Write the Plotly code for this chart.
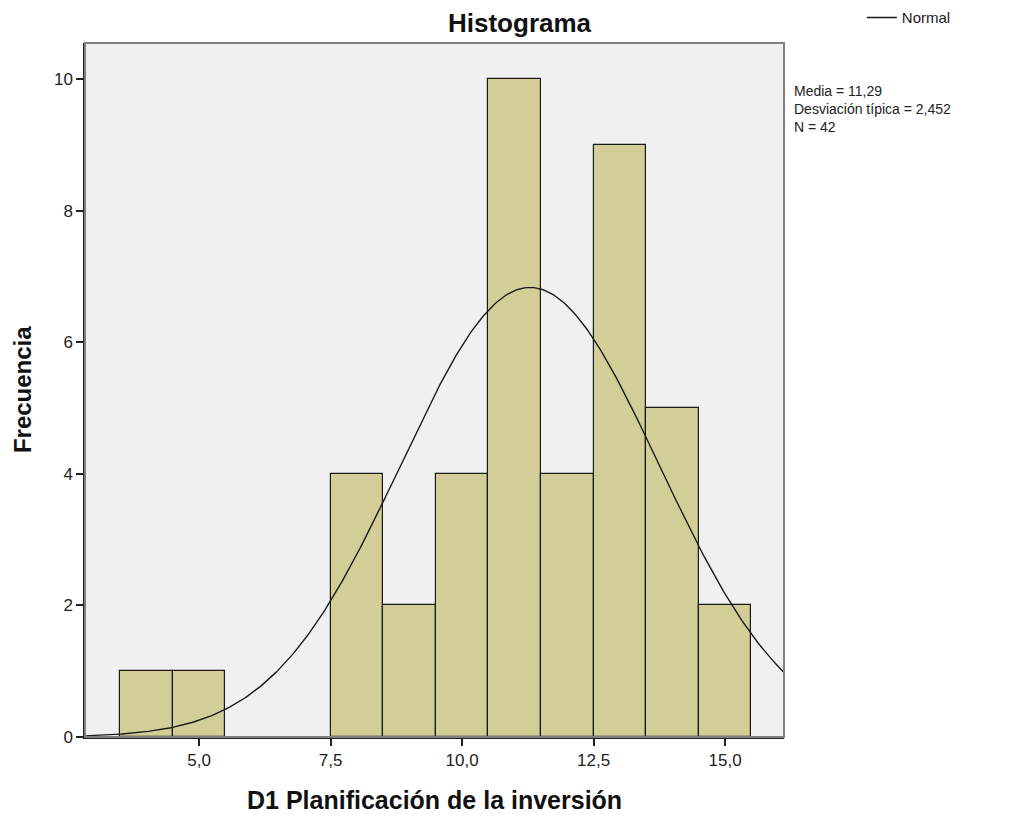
import numpy as np
import plotly.graph_objects as go

# Histograma: centros de clase (ancho 1) y frecuencias
centros = [4, 5, 8, 9, 10, 11, 12, 13, 14, 15]
frecuencias = [1, 1, 4, 2, 4, 10, 4, 9, 5, 2]
ancho_barra = 1.0

# estadisticos de la curva normal
media = 11.29
desv = 2.452
n = 42

ticks_x = [5.0, 7.5, 10.0, 12.5, 15.0]
ticks_y = [0, 2, 4, 6, 8, 10]
rango_x = [2.83, 16.12]
rango_y = [0, 10.55]

# curva normal ajustada (escalada a frecuencias)
x_curva = np.linspace(rango_x[0], rango_x[1], 400)
y_curva = n * ancho_barra * np.exp(-0.5 * ((x_curva - media) / desv) ** 2) / (desv * np.sqrt(2 * np.pi))

FUENTE = "Liberation Sans, Arial, sans-serif"

texto_stats = "<br>".join([
    "Media = " + f"{media:.2f}".replace(".", ","),
    "Desviación típica = " + f"{desv:.3f}".replace(".", ","),
    f"N = {n}",
])

fig = go.Figure()

fig.add_trace(go.Bar(
    x=centros, y=frecuencias, width=ancho_barra,
    marker=dict(color="#D3CE97", line=dict(color="#1a1a1a", width=1.2)),
    showlegend=False, hoverinfo="x+y"
))

fig.add_trace(go.Scatter(
    x=x_curva, y=y_curva, mode="lines", name="Normal",
    line=dict(color="#1a1a1a", width=1.4)
))

# la pagina tiene 8px de margen en el body -> figura 8px mas pequeña
fig.update_layout(
    width=1001, height=807,
    margin=dict(l=77, r=225, t=35, b=78),
    paper_bgcolor="white",
    plot_bgcolor="#F0F0F0",
    separators=",.",
    bargap=0,
    font=dict(family=FUENTE, color="#222"),
    legend=dict(
        xref="container", yref="container",
        x=0.853, y=0.988, xanchor="left", yanchor="middle",
        font=dict(size=15, color="#222"), itemwidth=30,
        bgcolor="rgba(0,0,0,0)", borderwidth=0
    ),
    xaxis=dict(
        range=rango_x, tickvals=ticks_x, tickformat=".1f",
        ticks="outside", ticklen=7, tickwidth=1.5, tickcolor="#222",
        showline=True, linecolor="#222", linewidth=1.5,
        showgrid=False, zeroline=False,
        tickfont=dict(size=17, color="#222")
    ),
    yaxis=dict(
        range=rango_y, tickvals=ticks_y,
        ticks="outside", ticklen=7, tickwidth=1.5, tickcolor="#222",
        showline=True, linecolor="#222", linewidth=1.5,
        showgrid=False, zeroline=False,
        tickfont=dict(size=17, color="#222")
    ),
    shapes=[dict(
        type="rect", xref="paper", yref="paper", x0=0, x1=1, y0=0, y1=1,
        line=dict(color="#808080", width=2), layer="above"
    )],
    annotations=[
        dict(text="<b>Histograma</b>", xref="paper", yref="paper",
             x=0.622, y=1.029, xanchor="center", yanchor="middle",
             showarrow=False, font=dict(size=26, color="#111")),
        dict(text="<b>D1 Planificación de la inversión</b>", xref="paper", yref="paper",
             x=0.5, y=-0.091, xanchor="center", yanchor="middle",
             showarrow=False, font=dict(size=25, color="#111")),
        dict(text="<b>Frecuencia</b>", xref="paper", yref="paper",
             x=-0.09, y=0.5, xanchor="center", yanchor="middle", textangle=-90,
             showarrow=False, font=dict(size=24, color="#111")),
        dict(text=texto_stats, xref="paper", yref="paper", x=1.0114, y=0.945,
             xanchor="left", yanchor="top", align="left",
             showarrow=False, font=dict(size=14, color="#222")),
    ]
)

fig.write_html("out.html")
